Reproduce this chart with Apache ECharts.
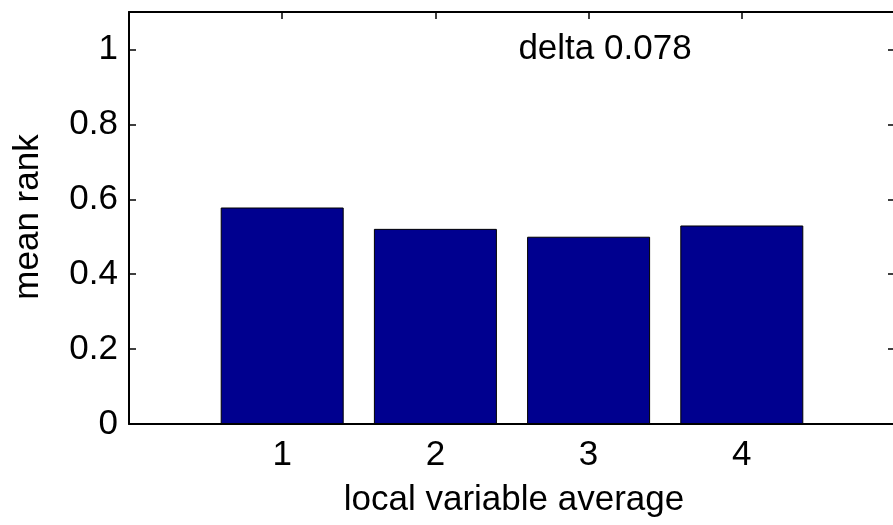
<!DOCTYPE html>
<html>
<head>
<meta charset="utf-8">
<script src="https://cdn.jsdelivr.net/npm/echarts@6/dist/echarts.min.js"></script>
<style>
html,body{margin:0;padding:0;background:#fff;}
#chart{width:893px;height:525px;}
</style>
</head>
<body>
<div id="chart"></div>
<script>
// data
const positions = [1, 2, 3, 4];
const meanRank = [0.578, 0.521, 0.500, 0.530];
const yTicks = [0, 0.2, 0.4, 0.6, 0.8, 1];
const xLabel = 'local variable average';
const yLabel = 'mean rank';
const note = 'delta 0.078';

const FONT = 'Liberation Sans, Arial, sans-serif';
const FS = 35;

const chart = echarts.init(document.getElementById('chart'), null, {renderer: 'canvas'});

function yFmt(v) {
  for (const t of yTicks) { if (Math.abs(v - t) < 1e-6) return String(t); }
  return '';
}
function xFmt(v) {
  return positions.indexOf(Math.round(v)) >= 0 && Math.abs(v - Math.round(v)) < 1e-6 ? String(Math.round(v)) : '';
}

const axisLine = {show: true, onZero: false, lineStyle: {color: '#000', width: 2}};
const tickIn = {show: true, inside: true, length: 7, lineStyle: {color: '#000', width: 1.5}};

const option = {
  animation: false,
  backgroundColor: '#fff',
  grid: {left: 129, top: 12, width: 766, height: 412, containLabel: false, outerBoundsMode: 'none'},
  xAxis: [
    {type: 'value', position: 'bottom', min: 0, max: 5, interval: 1,
     axisLine: axisLine, axisTick: tickIn, splitLine: {show: false},
     axisLabel: {formatter: xFmt, color: '#000', fontFamily: FONT, fontSize: FS, margin: 14}},
    {type: 'value', position: 'top', min: 0, max: 5, interval: 1,
     axisLine: axisLine, axisTick: tickIn, splitLine: {show: false},
     axisLabel: {show: false}}
  ],
  yAxis: [
    {type: 'value', position: 'left', min: 0, max: 1.1, interval: 0.2,
     axisLine: axisLine, axisTick: tickIn, splitLine: {show: false},
     axisLabel: {formatter: yFmt, color: '#000', fontFamily: FONT, fontSize: FS, margin: 11}},
    {type: 'value', position: 'right', min: 0, max: 1.1, interval: 0.2,
     axisLine: axisLine, axisTick: tickIn, splitLine: {show: false},
     axisLabel: {show: false}}
  ],
  series: [{
    type: 'bar',
    xAxisIndex: 0, yAxisIndex: 0,
    barWidth: 123,
    data: positions.map((p, i) => [p, meanRank[i]]),
    itemStyle: {color: '#00008f', borderColor: '#000', borderWidth: 1}
  }],
  graphic: [
    {type: 'text', x: 514, y: 500,
     style: {text: xLabel, font: FS + 'px ' + FONT, fill: '#000', textAlign: 'center', textVerticalAlign: 'middle'}},
    {type: 'text', x: 28, y: 217, rotation: Math.PI / 2,
     style: {text: yLabel, font: FS + 'px ' + FONT, fill: '#000', textAlign: 'center', textVerticalAlign: 'middle'}},
    {type: 'text', x: 605, y: 49,
     style: {text: note, font: FS + 'px ' + FONT, fill: '#000', textAlign: 'center', textVerticalAlign: 'middle'}}
  ]
};
chart.setOption(option);
</script>
</body>
</html>
